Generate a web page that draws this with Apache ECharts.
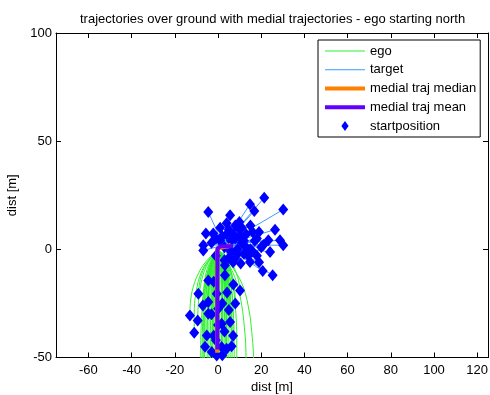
<!DOCTYPE html>
<html><head><meta charset="utf-8">
<script src="https://cdn.jsdelivr.net/npm/echarts@6/dist/echarts.min.js"></script>
<style>html,body{margin:0;padding:0;background:#fff}#c{width:490px;height:395px}</style>
</head><body><div id="c"></div>
<script>
const titleText = 'trajectories over ground with medial trajectories - ego starting north';
const xTicks = [-60, -40, -20, 0, 20, 40, 60, 80, 100, 120];
const yTicks = [-50, 0, 50, 100];
const xRange = [-75, 125];
const yRange = [-50, 100];

// ego trajectories (first point = start position)
const egoTracks = [
  [[-13,-30.6],[-12.8,-25],[-11.5,-17.5],[-8.5,-10],[-5,-5],[-1.5,-1.5]],
  [[-11,-38.6],[-11,-30],[-10.2,-20],[-7.5,-10],[-3.5,-4],[-0.5,-1]],
  [[-9.4,-32.9],[-9,-24],[-7.5,-14],[-4.5,-6],[-1,-1.5]],
  [[-9.1,-20.5],[-8,-13],[-5.5,-7],[-2,-2]],
  [[-7.3,-58],[-7.3,-45],[-7,-32],[-6,-18],[-3.5,-7],[-0.5,-1.5]],
  [[-6.2,-58],[-6.2,-40],[-5.8,-25],[-4.5,-12],[-2,-4],[0,-1]],
  [[-5.2,-39.8],[-5,-28],[-4.5,-16],[-3,-7],[-0.5,-1.5]],
  [[-4.5,-24.4],[-4.2,-16],[-3,-8],[-1,-2]],
  [[-3.5,-58],[-3.5,-40],[-3.2,-22],[-2.5,-10],[-0.5,-2]],
  [[-2.9,-47.5],[-2.8,-35],[-2.4,-20],[-1.5,-8],[0,-1.5]],
  [[-1.8,-58],[-1.8,-35],[-1.5,-15],[-0.5,-3]],
  [[0.8,-58],[0.8,-35],[0.8,-15],[0.5,-2]],
  [[1.7,-45.2],[1.8,-30],[1.8,-15],[1,-2]],
  [[1.7,-34.4],[2,-22],[1.8,-10],[0.8,-1.5]],
  [[2.8,-58],[2.8,-40],[2.8,-20],[2.2,-8],[1,-1.5]],
  [[4,-58],[4,-40],[3.8,-22],[3,-9],[1.5,-2]],
  [[5.6,-33.6],[5.5,-24],[4.5,-13],[2.5,-4],[1,-1]],
  [[6.3,-44.8],[6.2,-32],[5.5,-20],[4,-9],[1.5,-2]],
  [[5.6,-58],[5.6,-45],[5.4,-30],[4.6,-16],[2.8,-6],[0.8,-1]],
  [[8.7,-58],[8.7,-45],[8.3,-30],[6.8,-16],[4,-6],[1,-1]],
  [[16.6,-58],[16.4,-48],[15.6,-38],[14.5,-29],[11.7,-17.4],[7.5,-9.5],[3,-3.5],[0.5,-0.5]],
  [[13,-56],[12.9,-46],[12.2,-36],[11,-26],[8.5,-15],[4.8,-6.5],[1.5,-1.5]],
  [[10.2,-19],[9,-12.5],[6,-6],[2,-1.5]],
  [[7.1,-16.3],[6,-10],[3.5,-4.5],[1,-1]],
  [[3.2,-12],[2.5,-6],[1,-1.5]],
  [[-0.6,-20.5],[-0.5,-12],[0,-4]],
  [[3.2,-7.4],[2,-3],[0.5,-0.5]],
  [[-4.5,-14.4],[-3,-7],[-1,-1.5]],
  [[-4.5,-29.8],[-4.3,-20],[-3,-9],[-1,-2]],
  [[0.1,-27.5],[0.2,-15],[0.3,-3]],
  [[-0.6,-49.1],[-0.5,-30],[-0.3,-10],[0,-1]],
  [[-2,-40],[-2,-28],[-1.6,-15],[-0.6,-3]],
  [[3,-38],[3,-26],[2.6,-13],[1.2,-2.5]],
  [[-3,-30],[-2.8,-20],[-2,-9],[-0.5,-2]],
  [[2,-25],[2,-16],[1.4,-7],[0.5,-1.5]],
  [[4.2,-20],[3.8,-12],[2.5,-5],[1,-1]],
  [[-2,-15],[-1.6,-9],[-0.7,-3]],
  [[5,-28],[4.8,-19],[3.5,-9],[1.5,-2]],
  [[-6,-45],[-6,-33],[-5.3,-19],[-3.5,-8],[-1,-2]],
  [[7,-40],[6.9,-28],[6,-16],[3.8,-6],[1,-1]],
  [[0,-35],[0,-22],[0.1,-10],[0.2,-2]],
  [[-1,-42],[-1,-30],[-0.8,-15],[-0.2,-3]],
  [[8,-25],[7.5,-17],[5.5,-9],[2.5,-3],[0.8,-1]],
  [[-7,-26],[-6.6,-18],[-5,-9],[-2.2,-3]],
  [[4,-46],[4,-34],[3.7,-20],[2.6,-8],[1,-1.5]],
  [[2,-49],[2,-36],[2.1,-20],[1.6,-8],[0.6,-1.5]],
  [[-8,-58],[-8,-46],[-7.6,-32],[-6.4,-18],[-3.8,-7],[-1,-1.5]],
  [[-5,-58],[-5,-42],[-4.6,-26],[-3.5,-12],[-1.5,-3]],
  [[-0.5,-58],[-0.5,-40],[-0.3,-20],[0,-3]],
  [[6.5,-58],[6.5,-44],[6.2,-30],[5,-15],[2.6,-5],[0.6,-1]],
  [[-6.8,-58],[-6.8,-42],[-6.4,-26],[-5,-12],[-2.4,-4],[-0.3,-1]],
  [[-4.2,-58],[-4.2,-40],[-3.9,-24],[-3,-11],[-1.2,-3]],
  [[-2.5,-58],[-2.5,-38],[-2.2,-20],[-1.4,-8],[-0.2,-2]],
  [[1.5,-58],[1.5,-38],[1.5,-20],[1.1,-8],[0.4,-1.5]],
  [[3.4,-58],[3.4,-40],[3.2,-22],[2.5,-9],[1,-2]],
  [[4.7,-58],[4.7,-42],[4.5,-26],[3.7,-12],[1.8,-3]],
  [[7.5,-58],[7.5,-44],[7.1,-30],[5.8,-16],[3.2,-6],[0.8,-1]],
  [[-1,-58],[-1,-40],[-0.8,-22],[-0.4,-8],[0,-2]]
];

// target trajectories (first point = start position)
const targetTracks = [
  [[-4.5,17.3],[2,3]], [[5.6,15.7],[3,3]], [[14.8,20.8],[3,3]], [[21.4,23.9],[3.5,3]],
  [[16.8,17.7],[3,2.5]], [[30.2,18.4],[4,3]], [[9.9,12.6],[3,2.5]], [[26.4,9.1],[4,2.5]],
  [[-5.6,7.3],[1.5,2.5]], [[-2.2,7.3],[2,2.5]], [[-6.8,1.9],[1,2]], [[-6.8,-0.5],[1,1.5]],
  [[23.3,4.2],[4,2.5]], [[28.7,4.2],[4.5,2.5]], [[30.2,1.9],[5,2]], [[24.1,-1.2],[4,1.5]],
  [[10.5,-6.6],[3,1]], [[20.7,-10],[4,1]], [[25.3,-12],[4.5,1]], [[14.8,-5.9],[4,1]],
  [[2,6],[2.5,3]], [[5,9],[3,3]], [[8,5],[3.5,2.5]], [[6,-1],[3,1.5]], [[11,3],[4,2]],
  [[13,7],[4,2.5]], [[15,0],[4,1.5]], [[8,-4],[3.5,1]], [[17,4],[4.5,2]], [[18,-3],[4.5,1.5]],
  [[1,10],[2.5,3]], [[4,12],[3,3]], [[-3,3],[1.5,2]], [[10,9],[3.5,3]], [[12,-2],[4,1.5]],
  [[6,4],[3,2.5]], [[20,1],[4,2]], [[-1,-3],[1,1]], [[3,-5],[2.5,1]], [[19,8],[4,2.5]], [[9,0],[3.5,2]],
  [[3,1],[2.5,2]], [[7,7],[3,2.5]], [[12,4],[4,2]], [[16,8],[4,2.5]], [[9,-2],[3.5,1.5]],
  [[14,-3],[4,1.5]], [[5,-4],[3,1]], [[11,10],[3.5,3]], [[18,5],[4.5,2]], [[21,2],[4.5,2]],
  [[1,4],[2,2.5]], [[-1,5],[1.5,2.5]], [[7,-6],[3,1]], [[13,1],[4,2]], [[16,-1],[4,1.5]],
  [[19,-6],[4.5,1]], [[4,7],[2.5,3]], [[8,11],[3,3]], [[15,11],[3.5,3]], [[10,6],[3.5,2.5]]
];

const medianTrack = [[-0.4,-47.8],[-0.4,-20],[-0.3,0.5],[5,1.4],[6,2.4]];
const meanTrack = [[-0.3,-46.3],[-0.3,-20],[-0.2,0.3],[1,1.4],[7,1.4]];

const COL = {ego:'#2ef02e', target:'#3d9bff', median:'#ff8000', mean:'#6000ff', start:'#0000ff'};
const FONT = 'Liberation Sans, Arial, Helvetica, sans-serif';
const FS = 13;

const series = [];
egoTracks.forEach(t => series.push({
  name:'ego', type:'line', data:t, symbol:'none', smooth:0.4, z:2,
  lineStyle:{color:COL.ego, width:1}, itemStyle:{color:COL.ego}
}));
targetTracks.forEach(t => series.push({
  name:'target', type:'line', data:t, symbol:'none', z:3,
  lineStyle:{color:COL.target, width:1}, itemStyle:{color:COL.target}
}));
const starts = egoTracks.map(t => t[0]).concat(targetTracks.map(t => t[0]));
series.push({
  name:'startposition', type:'scatter', data:starts, symbol:'diamond', symbolSize:[10,12], z:4,
  itemStyle:{color:COL.start, opacity:1}
});
series.push({
  name:'medial traj median', type:'line', data:medianTrack, symbol:'none', z:5,
  lineStyle:{color:COL.median, width:4}, itemStyle:{color:COL.median}
});
series.push({
  name:'medial traj mean', type:'line', data:meanTrack, symbol:'none', z:6,
  lineStyle:{color:COL.mean, width:4}, itemStyle:{color:COL.mean}
});

const thinIcon = 'path://M0,0H40V1H0Z';
const thickIcon = 'path://M0,0H40V4H0Z';
const diamondIcon = 'path://M4,0L8,5.5L4,11L0,5.5Z';

const axisCommon = {
  type:'value',
  axisLine:{show:true, onZero:false, lineStyle:{color:'#000', width:1}},
  splitLine:{show:false}
};
const txt = {fontSize:FS, fontFamily:FONT, color:'#000'};

const chart = echarts.init(document.getElementById('c'), null, {renderer:'canvas'});
chart.setOption({
  animation:false,
  backgroundColor:'#fff',
  title:{text:titleText, left:80, top:13, padding:0,
    textStyle:{fontSize:FS, fontWeight:'normal', fontFamily:FONT, color:'#000'}},
  grid:{left:56, right:2, top:33, bottom:37.5, containLabel:false, outerBoundsMode:'none'},
  legend:{
    data:[
      {name:'ego', icon:thinIcon},
      {name:'target', icon:thinIcon},
      {name:'medial traj median', icon:thickIcon},
      {name:'medial traj mean', icon:thickIcon},
      {name:'startposition', icon:diamondIcon}
    ],
    orient:'vertical', left:318, top:40,
    itemWidth:40, itemHeight:10, itemGap:5.75,
    backgroundColor:'#fff', borderColor:'#000', borderWidth:1, borderRadius:0,
    padding:[4.5, 4, 4.5, 7], selectedMode:false,
    textStyle:txt
  },
  xAxis:[
    Object.assign({}, axisCommon, {min:xRange[0], max:xRange[1], position:'bottom',
      axisTick:{show:true, inside:true, length:5, customValues:xTicks, lineStyle:{color:'#000'}},
      axisLabel:Object.assign({customValues:xTicks, margin:6}, txt),
      name:'dist [m]', nameLocation:'middle', nameGap:23,
      nameTextStyle:txt}),
    Object.assign({}, axisCommon, {min:xRange[0], max:xRange[1], position:'top',
      axisTick:{show:true, inside:true, length:5, customValues:xTicks, lineStyle:{color:'#000'}},
      axisLabel:{show:false}})
  ],
  yAxis:[
    Object.assign({}, axisCommon, {min:yRange[0], max:yRange[1], interval:50, position:'left',
      axisTick:{show:true, inside:true, length:5, lineStyle:{color:'#000'}},
      axisLabel:Object.assign({margin:4}, txt),
      name:'dist [m]', nameLocation:'middle', nameGap:35,
      nameTextStyle:txt}),
    Object.assign({}, axisCommon, {min:yRange[0], max:yRange[1], interval:50, position:'right',
      axisTick:{show:true, inside:true, length:5, lineStyle:{color:'#000'}},
      axisLabel:{show:false}})
  ],
  series:series
});
</script></body></html>
